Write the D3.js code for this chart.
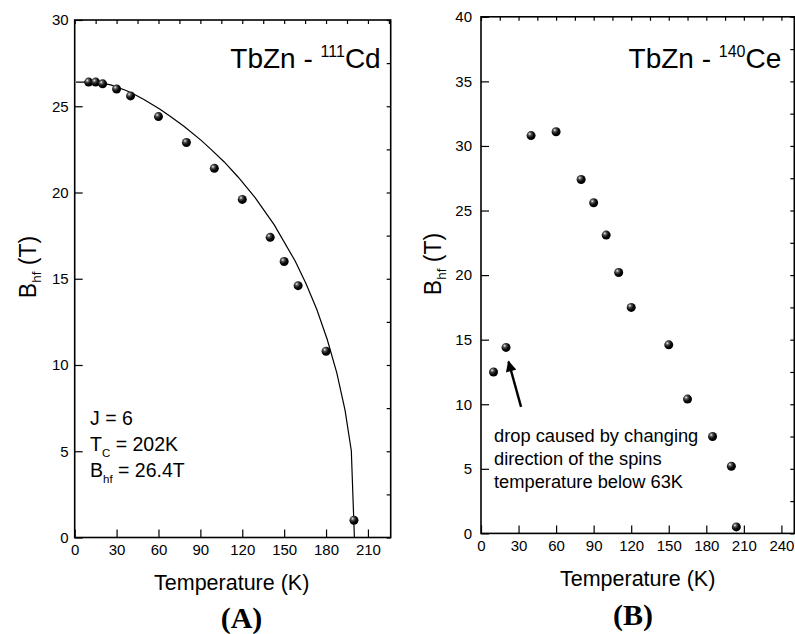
<!DOCTYPE html>
<html><head><meta charset="utf-8">
<script src="https://cdn.jsdelivr.net/npm/d3@7"></script>
<style>body{margin:0;background:#fff}svg{display:block}</style>
</head><body>
<svg id="c" width="795" height="634"></svg>
<script>
// ---- Data ----
const tempA = [10, 15, 20, 30, 40, 60, 80, 100, 120, 140, 150, 160, 180, 200];
const bhfA  = [26.4, 26.4, 26.3, 26.0, 25.6, 24.4, 22.9, 21.4, 19.6, 17.4, 16.0, 14.6, 10.8, 1.0];
// Brillouin-type fit curve (J=6, Tc=202K, Bhf=26.4T)
const fitT = [1, 10.4, 17.3, 25.8, 36.4, 42.2, 49.9, 61.1, 68.6, 78.2, 90.6, 98.2, 107.1, 117.3, 129.2, 142.8, 157.8, 165.6, 173.4, 180.8, 187.7, 193.6, 198.1, 200.3];
const fitB = [26.40, 26.40, 26.37, 26.24, 25.93, 25.71, 25.38, 24.83, 24.41, 23.84, 23.02, 22.46, 21.77, 20.87, 19.70, 18.14, 16.04, 14.73, 13.22, 11.49, 9.54, 7.38, 5.03, 0];
const tempB = [10, 20, 40, 60, 80, 90, 100, 110, 120, 150, 165, 185, 200, 204];
const bhfB  = [12.5, 14.4, 30.8, 31.1, 27.4, 25.6, 23.1, 20.2, 17.5, 14.6, 10.4, 7.5, 5.2, 0.5];
const xTicksA = [0, 30, 60, 90, 120, 150, 180, 210];
const yTicksA = [0, 5, 10, 15, 20, 25, 30];
const xTicksB = [0, 30, 60, 90, 120, 150, 180, 210, 240];
const yTicksB = [0, 5, 10, 15, 20, 25, 30, 35, 40];
const noteA = [["J = 6", ""], ["T", "C", " = 202K"], ["B", "hf", " = 26.4T"]];
const noteB = ["drop caused by changing", "direction of the spins", "temperature below 63K"];

const SANS = "'Liberation Sans', Arial, sans-serif";
const svg = d3.select("#c");

const defs = svg.append("defs");
const grad = defs.append("radialGradient").attr("id", "ball")
  .attr("cx", "35%").attr("cy", "32%").attr("r", "65%");
grad.append("stop").attr("offset", "0%").attr("stop-color", "#f4f4f4");
grad.append("stop").attr("offset", "28%").attr("stop-color", "#555");
grad.append("stop").attr("offset", "65%").attr("stop-color", "#0a0a0a");
grad.append("stop").attr("offset", "100%").attr("stop-color", "#000");
defs.append("marker").attr("id", "arrow").attr("viewBox", "0 0 10 10")
  .attr("refX", 9).attr("refY", 5).attr("markerWidth", 5).attr("markerHeight", 4.5)
  .attr("orient", "auto").attr("markerUnits", "strokeWidth")
  .append("path").attr("d", "M0,0 L10,5 L0,10 z").attr("fill", "#000");

function panel(o) {
  const g = svg.append("g");
  const x = d3.scaleLinear().domain(o.xDom).range([o.left, o.right]);
  const y = d3.scaleLinear().domain(o.yDom).range([o.bottom, o.top]);
  const minorX = d3.range(0, o.xDom[1] + 0.01, o.xMinor);
  const minorY = d3.range(0, o.yDom[1] + 0.01, o.yMinor);

  const gb = g.append("g").attr("transform", `translate(0,${o.bottom})`);
  gb.call(d3.axisBottom(x).tickValues(minorX).tickSize(-4).tickFormat(""));
  gb.call(d3.axisBottom(x).tickValues(o.xTicks).tickSize(-8).tickPadding(7).tickFormat(d3.format("d")));
  const gl = g.append("g").attr("transform", `translate(${o.left},0)`);
  gl.call(d3.axisLeft(y).tickValues(minorY).tickSize(-4).tickFormat(""));
  gl.call(d3.axisLeft(y).tickValues(o.yTicks).tickSize(-8).tickPadding(o.yPad).tickFormat(d3.format("d")));
  g.append("g").attr("transform", `translate(0,${o.top})`)
    .call(d3.axisTop(x).tickValues(minorX).tickSize(-4).tickFormat(""));
  g.append("g").attr("transform", `translate(${o.right},0)`)
    .call(d3.axisRight(y).tickValues(minorY).tickSize(-4).tickFormat(""));
  g.selectAll(".domain").remove();
  g.selectAll(".tick line").attr("stroke", "#000").attr("stroke-width", 1.2);
  g.selectAll(".tick text").attr("font-family", SANS).attr("font-size", 15).attr("fill", "#000");
  g.append("rect").attr("x", o.left).attr("y", o.top)
    .attr("width", o.right - o.left).attr("height", o.bottom - o.top)
    .attr("fill", "none").attr("stroke", "#000").attr("stroke-width", 1.6);

  if (o.fitT) {
    g.append("path").datum(o.fitT.map((t, i) => [t, o.fitB[i]]))
      .attr("fill", "none").attr("stroke", "#000").attr("stroke-width", 1.2)
      .attr("d", d3.line().x(d => x(d[0])).y(d => y(d[1])));
  }
  g.selectAll("circle.pt").data(o.temp.map((t, i) => [t, o.bhf[i]])).join("circle")
    .attr("class", "pt").attr("cx", d => x(d[0])).attr("cy", d => y(d[1]))
    .attr("r", 4.5).attr("fill", "url(#ball)");

  const tt = g.append("text").attr("x", o.right - o.titleMargin).attr("y", 68)
    .attr("text-anchor", "end").attr("font-family", SANS).attr("font-size", 28).attr("fill", "#000");
  tt.append("tspan").text("TbZn - ");
  tt.append("tspan").attr("font-size", 16).attr("dy", -11).text(o.iso);
  tt.append("tspan").attr("dy", 11).text(o.elem);

  const yl = g.append("text").attr("transform", `translate(${o.yLabX},${o.yLabY}) rotate(-90)`)
    .attr("text-anchor", "middle").attr("font-family", SANS).attr("font-size", 23).attr("fill", "#000");
  yl.append("tspan").text("B");
  yl.append("tspan").attr("font-size", 13.5).attr("dy", 5).text("hf");
  yl.append("tspan").attr("dy", -5).text(" (T)");

  g.append("text").attr("x", (o.left + o.right) / 2 + o.xLabDx).attr("y", o.xLabY)
    .attr("text-anchor", "middle").attr("font-family", SANS).attr("font-size", 21.5)
    .attr("fill", "#000").text("Temperature (K)");
  g.append("text").attr("x", o.letterX).attr("y", o.letterY).attr("text-anchor", "middle")
    .attr("font-family", "'Liberation Serif', 'Times New Roman', serif").attr("font-weight", "bold")
    .attr("font-size", 30).attr("fill", "#000").text(o.letter);
  return { g, x, y };
}

const A = panel({
  left: 74.7, right: 390.7, top: 20, bottom: 537.5,
  xDom: [0, 226.3], yDom: [0, 30], xTicks: xTicksA, yTicks: yTicksA, xMinor: 15, yMinor: 2.5, yPad: 6,
  temp: tempA, bhf: bhfA, fitT: fitT, fitB: fitB,
  iso: "111", elem: "Cd", titleMargin: 10,
  yLabX: 36, yLabY: 267, xLabY: 590, xLabDx: -1, letter: "(A)", letterX: 241.5, letterY: 628
});
const B = panel({
  left: 481, right: 794.3, top: 16.8, bottom: 533.4,
  xDom: [0, 250.3], yDom: [0, 40], xTicks: xTicksB, yTicks: yTicksB, xMinor: 15, yMinor: 2.5, yPad: 9,
  temp: tempB, bhf: bhfB, fitT: null,
  iso: "140", elem: "Ce", titleMargin: 13,
  yLabX: 441, yLabY: 264, xLabY: 586, xLabDx: 0, letter: "(B)", letterX: 633, letterY: 625
});

noteA.forEach((ln, i) => {
  const t = A.g.append("text").attr("x", 90).attr("y", 425 + i * 25.8)
    .attr("font-family", SANS).attr("font-size", 19.5).attr("fill", "#000");
  t.append("tspan").text(ln[0]);
  if (ln.length > 2) {
    t.append("tspan").attr("font-size", 11.5).attr("dy", 6).text(ln[1]);
    t.append("tspan").attr("dy", -6).text(ln[2]);
  }
});

noteB.forEach((s, i) => {
  B.g.append("text").attr("x", 494).attr("y", 441.5 + i * 23.2)
    .attr("font-family", SANS).attr("font-size", 18.3).attr("fill", "#000").text(s);
});
B.g.append("line")
  .attr("x1", B.x(32)).attr("y1", B.y(9.8))
  .attr("x2", B.x(22)).attr("y2", B.y(13.3))
  .attr("stroke", "#000").attr("stroke-width", 2.4).attr("marker-end", "url(#arrow)");
</script>
</body></html>
